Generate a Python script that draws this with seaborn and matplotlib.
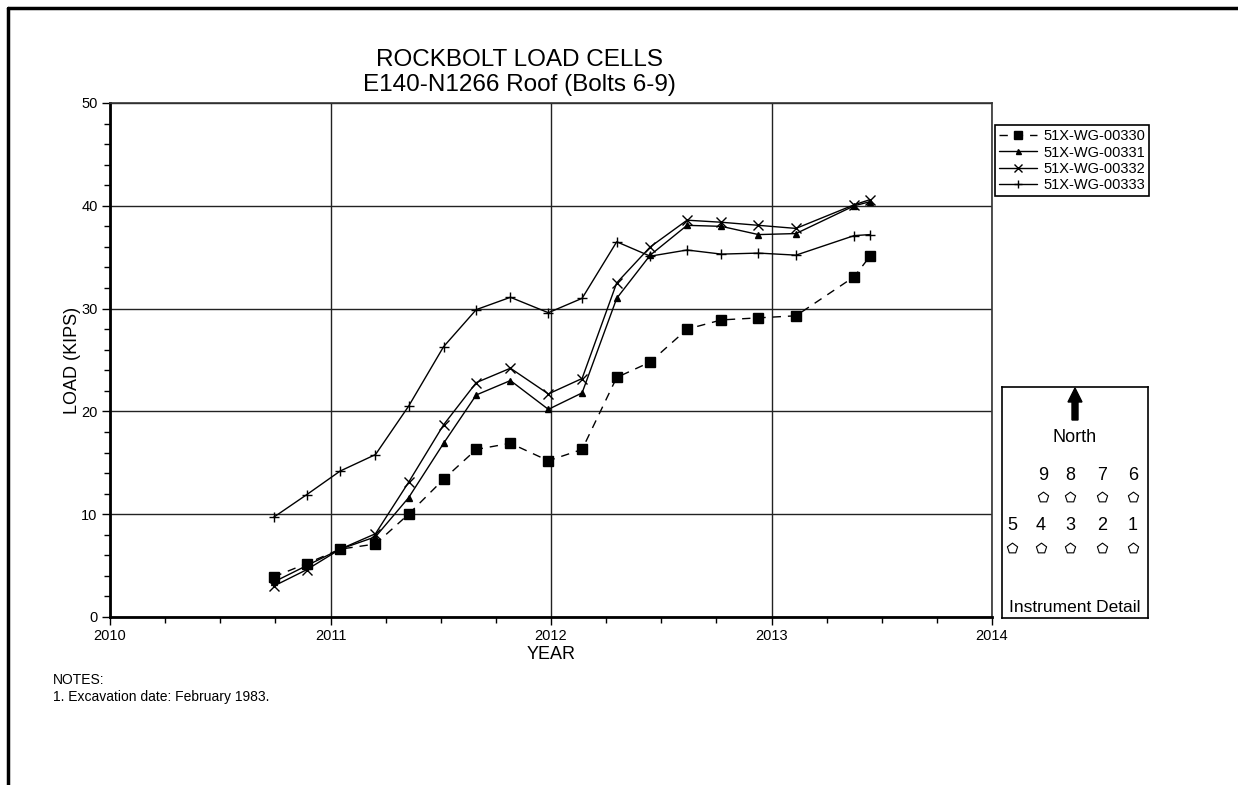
import matplotlib
matplotlib.use("Agg")
import matplotlib.pyplot as plt
from matplotlib.lines import Line2D
from matplotlib.patches import FancyArrow
from matplotlib.ticker import MultipleLocator
import pandas as pd
import seaborn as sns

# ── Data ────────────────────────────────────────────────
years = [2010.742, 2010.892, 2011.044, 2011.204, 2011.354, 2011.513,
         2011.661, 2011.816, 2011.988, 2012.141, 2012.298, 2012.450,
         2012.617, 2012.773, 2012.941, 2013.111, 2013.375, 2013.447]

wg_00330 = [3.9, 5.2, 6.6, 7.1, 10.0, 13.4, 16.3, 16.9, 15.2, 16.3,
            23.3, 24.8, 28.0, 28.9, 29.1, 29.3, 33.1, 35.1]
wg_00331 = [3.4, 5.0, 6.6, 7.8, 11.6, 16.9, 21.6, 23.0, 20.2, 21.8,
            31.0, 35.2, 38.1, 38.0, 37.2, 37.3, 40.0, 40.4]
wg_00332 = [3.0, 4.6, 6.6, 8.1, 13.1, 18.7, 22.8, 24.2, 21.7, 23.2,
            32.5, 36.0, 38.6, 38.4, 38.1, 37.8, 40.1, 40.6]
wg_00333 = [9.7, 11.9, 14.2, 15.8, 20.5, 26.3, 29.9, 31.1, 29.6, 31.0,
            36.5, 35.1, 35.7, 35.3, 35.4, 35.2, 37.1, 37.2]

series_names = ["51X-WG-00330", "51X-WG-00331", "51X-WG-00332", "51X-WG-00333"]
year_ticks = [2010, 2011, 2012, 2013, 2014]

# bolt layout for the instrument detail sketch
bolt_row_top = ["9", "8", "7", "6"]
bolt_row_bottom = ["5", "4", "3", "2", "1"]

# ── Style ───────────────────────────────────────────────
sns.set_theme(style="white")
plt.rcParams["font.family"] = ["Liberation Sans", "DejaVu Sans"]
plt.rcParams["text.color"] = "black"
plt.rcParams["axes.labelcolor"] = "black"
plt.rcParams["xtick.color"] = "black"
plt.rcParams["ytick.color"] = "black"

W, H = 1238, 785
fig = plt.figure(figsize=(W / 100, H / 100), dpi=100)
fig.patch.set_facecolor("white")


def fx(px):
    return px / W


def fy(py):
    return 1 - py / H


ax = fig.add_axes([fx(110), fy(617), fx(992) - fx(110), fy(103) - fy(617)])

df = pd.DataFrame({"year": years, series_names[0]: wg_00330,
                   series_names[1]: wg_00331, series_names[2]: wg_00332,
                   series_names[3]: wg_00333})

styles = {
    series_names[0]: dict(marker="s", markersize=7, linestyle=(0, (6, 5))),
    series_names[1]: dict(marker="^", markersize=4.5, linestyle="-"),
    series_names[2]: dict(marker="x", markersize=7, linestyle="-"),
    series_names[3]: dict(marker="+", markersize=7.5, linestyle="-"),
}

for name in series_names:
    sns.lineplot(data=df, x="year", y=name, ax=ax, color="black", lw=1,
                 mec="black", mfc="black", mew=1, label=name, **styles[name])

# ── Axes ────────────────────────────────────────────────
ax.set_xlim(2010, 2014)
ax.set_ylim(0, 50)
ax.set_xticks(year_ticks)
ax.set_xticklabels([str(y) for y in year_ticks])
ax.xaxis.set_minor_locator(MultipleLocator(0.25))
ax.yaxis.set_major_locator(MultipleLocator(10))
ax.yaxis.set_minor_locator(MultipleLocator(2))
ax.tick_params(which="both", direction="out", color="black", width=1,
               bottom=True, left=True, labelsize=10.5, labelcolor="black")
ax.tick_params(which="major", length=6, pad=3)
ax.tick_params(which="minor", length=4)
ax.grid(which="major", color="#222222", lw=1)
ax.set_axisbelow(True)

for side in ["left", "bottom"]:
    ax.spines[side].set_linewidth(2)
    ax.spines[side].set_color("black")
for side in ["top", "right"]:
    ax.spines[side].set_linewidth(1.2)
    ax.spines[side].set_color("#333333")

ax.set_xlabel("YEAR", fontsize=13, labelpad=2)
ax.set_ylabel("LOAD (KIPS)", fontsize=13, labelpad=0)

leg = ax.legend(loc="upper left", bbox_to_anchor=(fx(995), fy(125)),
                bbox_transform=fig.transFigure, borderaxespad=0,
                fontsize=10.5, frameon=True, fancybox=False, framealpha=1,
                edgecolor="black", handlelength=2.6, handletextpad=0.4,
                labelspacing=0.15, borderpad=0.3, markerscale=0.8)
leg.get_frame().set_linewidth(1.2)

# ── Title and notes ─────────────────────────────────────
fig.text(fx(519), fy(66), "ROCKBOLT LOAD CELLS", ha="center", va="baseline",
         fontsize=17.5)
fig.text(fx(519), fy(91), "E140-N1266 Roof (Bolts 6-9)", ha="center",
         va="baseline", fontsize=17.5)
fig.text(fx(53), fy(680), "NOTES:", ha="left", va="center", fontsize=10)
fig.text(fx(53), fy(697), "1. Excavation date: February 1983.", ha="left",
         va="center", fontsize=10)

# ── Instrument detail sketch ────────────────────────────
ax2 = fig.add_axes([fx(1002), fy(618), fx(1148) - fx(1002), fy(387) - fy(618)])
ax2.set_xlim(0, 146)
ax2.set_ylim(0, 231)
ax2.set_xticks([])
ax2.set_yticks([])
for sp in ax2.spines.values():
    sp.set_linewidth(1.2)
    sp.set_color("black")

ax2.add_patch(FancyArrow(73, 198, 0, 32, width=6, head_width=14,
                         head_length=14, length_includes_head=True,
                         color="black"))
ax2.text(73, 180, "North", ha="center", va="center", fontsize=13)

top_x = [41, 68, 100, 131]
bottom_x = [10, 39, 68, 100, 131]
for lbl, x in zip(bolt_row_top, top_x):
    ax2.text(x, 142, lbl, ha="center", va="center", fontsize=13)
for lbl, x in zip(bolt_row_bottom, bottom_x):
    ax2.text(x, 92, lbl, ha="center", va="center", fontsize=13)
sns.scatterplot(x=top_x + bottom_x, y=[121] * len(top_x) + [70] * len(bottom_x),
                ax=ax2, marker="p", s=60, facecolor="white",
                edgecolor="black", linewidth=0.8, legend=False)
ax2.text(73, 11, "Instrument Detail", ha="center", va="center", fontsize=12.5)

# ── Page border ─────────────────────────────────────────
fig.add_artist(Line2D([fx(8), fx(8)], [0, fy(8)], transform=fig.transFigure,
                      color="black", lw=2.5))
fig.add_artist(Line2D([fx(8), 1], [fy(8), fy(8)], transform=fig.transFigure,
                      color="black", lw=2.5))

fig.savefig("out.png", dpi=100)
